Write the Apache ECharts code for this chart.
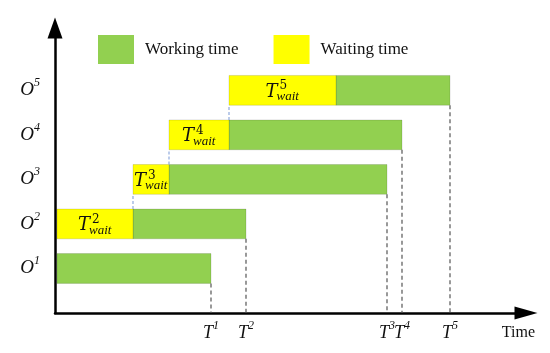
<!DOCTYPE html>
<html>
<head>
<meta charset="utf-8">
<script src="https://cdn.jsdelivr.net/npm/echarts@6/dist/echarts.min.js"></script>
<style>html,body{margin:0;padding:0;background:#fff}#c{width:550px;height:353px}</style>
</head>
<body>
<div id="c"></div>
<script>
// operation levels (O^1 .. O^5)
const opLevels = [1, 2, 3, 4, 5];
const opLabels = ['O1', 'O2', 'O3', 'O4', 'O5'];
// time values (arbitrary units along the time axis)
const waitStart = [2, 2, 78, 114, 174];
const workStart = [2, 78, 114, 174, 281];
const finishTime = [156, 191, 332, 347, 395];
const tickLabels = ['T1', 'T2', 'T3', 'T4', 'T5'];

const GREEN = '#92D050';
const YELLOW = '#FFFF00';
const BAR_H = 0.67;

const workData = opLevels.map((lv, i) => [workStart[i], finishTime[i], lv]);
const waitData = opLevels.map((lv, i) => [waitStart[i], workStart[i], lv, i + 1]).filter(d => d[1] > d[0]);
const finishLines = opLevels.map((lv, i) => [finishTime[i], lv]);
const connectors = [];
for (let i = 1; i < opLevels.length - 1; i++) {
  if (waitStart[i + 1] === workStart[i]) connectors.push([workStart[i], opLevels[i], opLevels[i + 1]]);
}

function rectItem(params, api, fill) {
  const p0 = api.coord([api.value(0), api.value(2)]);
  const p1 = api.coord([api.value(1), api.value(2)]);
  const h = api.size([0, BAR_H])[1];
  return {
    type: 'rect',
    shape: { x: p0[0], y: p0[1] - h / 2, width: p1[0] - p0[0], height: h },
    style: { fill: fill, stroke: 'rgba(0,0,0,0.13)', lineWidth: 1 }
  };
}

const mathFont = '"DejaVu Serif", "Liberation Serif", serif';
const serif = '"Liberation Serif", serif';

const option = {
  animation: false,
  grid: { left: 55, right: 24, top: 28, bottom: 40 },
  legend: {
    left: 98, top: 35, padding: 0,
    itemWidth: 36, itemHeight: 29, itemGap: 35,
    icon: 'rect',
    textStyle: { fontFamily: serif, fontSize: 17, color: '#111', padding: [0, 0, 0, 6] },
    data: ['Working time', 'Waiting time']
  },
  xAxis: {
    type: 'value', min: 0, max: 471,
    name: 'Time', nameLocation: 'end', nameGap: 9,
    nameTextStyle: { fontFamily: serif, fontSize: 16, color: '#111', align: 'right', verticalAlign: 'top', padding: [12, 0, 0, 0] },
    axisLine: { lineStyle: { color: '#000', width: 2.5 }, symbol: ['none', 'triangle'], symbolSize: [13, 23] },
    axisTick: { show: false },
    splitLine: { show: false },
    axisLabel: {
      customValues: finishTime,
      margin: 7,
      formatter: function (v) {
        const i = finishTime.indexOf(v);
        if (i < 0) return '';
        const s = tickLabels[i];
        return '{t|' + s[0] + '}{s|' + s.slice(1) + '}';
      },
      rich: {
        t: { fontFamily: serif, fontStyle: 'italic', fontSize: 18, color: '#111' },
        s: { fontFamily: serif, fontStyle: 'italic', fontSize: 12, color: '#111', verticalAlign: 'top', padding: [0, 0, 14, 0] }
      }
    }
  },
  yAxis: {
    type: 'value', min: 0, max: 6.4, interval: 1,
    axisLine: { show: true, lineStyle: { color: '#000', width: 2.5 }, symbol: ['none', 'triangle'], symbolSize: [15, 21] },
    axisTick: { show: false },
    splitLine: { show: false },
    axisLabel: {
      margin: 15,
      formatter: function (v) {
        const i = opLevels.indexOf(v);
        if (i < 0) return '';
        const s = opLabels[i];
        return '{t|' + s[0] + '}{s|' + s.slice(1) + '}';
      },
      rich: {
        t: { fontFamily: serif, fontStyle: 'italic', fontSize: 19, color: '#111' },
        s: { fontFamily: serif, fontStyle: 'italic', fontSize: 12, color: '#111', verticalAlign: 'top', padding: [0, 0, 15, 0] }
      }
    }
  },
  series: [
    {
      name: 'Working time', type: 'custom', itemStyle: { color: GREEN },
      data: workData, encode: { x: [0, 1], y: 2 },
      renderItem: function (params, api) { return rectItem(params, api, GREEN); }
    },
    {
      name: 'Waiting time', type: 'custom', itemStyle: { color: YELLOW },
      data: waitData, encode: { x: [0, 1], y: 2 },
      renderItem: function (params, api) {
        const r = rectItem(params, api, YELLOW);
        const cx = r.shape.x + r.shape.width / 2;
        const cy = r.shape.y + r.shape.height / 2;
        const n = String(api.value(3));
        return {
          type: 'group',
          children: [
            r,
            { type: 'text', style: { text: 'T', x: cx - 5, y: cy + 1.5, align: 'right', verticalAlign: 'middle', fontFamily: mathFont, fontStyle: 'italic', fontSize: 18, fill: '#111' } },
            { type: 'text', style: { text: n, x: cx - 3, y: cy - 4, align: 'left', verticalAlign: 'middle', fontFamily: mathFont, fontSize: 12, fill: '#111' } },
            { type: 'text', style: { text: 'wait', x: cx - 6, y: cy + 6.5, align: 'left', verticalAlign: 'middle', fontFamily: serif, fontStyle: 'italic', fontSize: 13, fill: '#111' } }
          ]
        };
      }
    },
    {
      type: 'custom', silent: true,
      data: finishLines, encode: { x: 0, y: 1 },
      renderItem: function (params, api) {
        const p = api.coord([api.value(0), api.value(1)]);
        const base = api.coord([api.value(0), 0]);
        const h = api.size([0, BAR_H])[1];
        return {
          type: 'line',
          shape: { x1: p[0], y1: p[1] + h / 2, x2: p[0], y2: base[1] },
          style: { stroke: '#555', lineWidth: 1.2, lineDash: [4, 3] }
        };
      }
    },
    {
      type: 'custom', silent: true,
      data: connectors, encode: { x: 0, y: [1, 2] },
      renderItem: function (params, api) {
        const a = api.coord([api.value(0), api.value(1)]);
        const b = api.coord([api.value(0), api.value(2)]);
        const h = api.size([0, BAR_H])[1];
        return {
          type: 'line',
          shape: { x1: a[0], y1: a[1] - h / 2, x2: b[0], y2: b[1] + h / 2 },
          style: { stroke: '#8FAADC', lineWidth: 1.2, lineDash: [3, 2] }
        };
      }
    }
  ]
};

const chart = echarts.init(document.getElementById('c'), null, { renderer: 'canvas' });
chart.setOption(option);
</script>
</body>
</html>
